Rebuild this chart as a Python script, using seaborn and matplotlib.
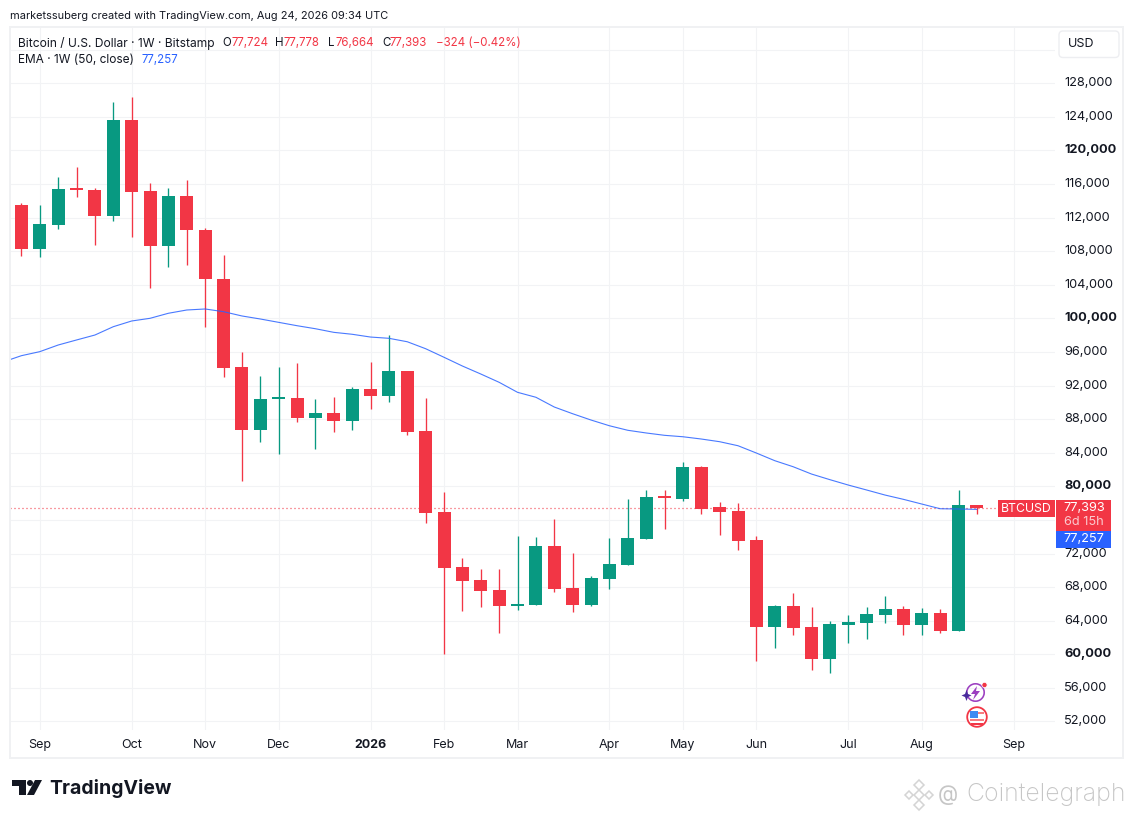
import matplotlib
matplotlib.use("Agg")
import matplotlib.pyplot as plt
import matplotlib.transforms as mtransforms
import pandas as pd
import seaborn as sns
from matplotlib.patches import Circle, FancyBboxPatch, Polygon, Rectangle, Wedge

# weekly candles, first one is the week of 2025-08-25
start_date = "2025-08-25"
opens = [113490, 108250, 111110, 115480, 115280, 112180, 123610, 115160, 108610, 114560,
         110510, 104680, 94200, 86700, 90360, 90510, 88130, 88730, 87780, 91580,
         90750, 93730, 86580, 76940, 70390, 68840, 67650, 65750, 65870, 72890,
         67890, 65870, 68960, 70630, 73730, 78810, 78490, 82300, 77540, 77060,
         73610, 63250, 65750, 63250, 59440, 63490, 63730, 64680, 65390, 63490,
         64920, 62770, 77724]
highs = [113730, 113490, 116820, 118010, 115510, 125750, 126350, 116110, 115510, 116470,
         110750, 107540, 95990, 93130, 94200, 94680, 90390, 90630, 91820, 94800,
         98010, 93730, 90510, 79320, 71460, 70150, 70150, 74080, 73960, 76110,
         72060, 69320, 73850, 78490, 79560, 79560, 82890, 82420, 78130, 78010,
         74080, 65870, 67300, 65630, 63960, 64680, 65630, 66940, 65750, 65510,
         65390, 79560, 77778]
lows = [107420, 107300, 110630, 114440, 108730, 111580, 109680, 103610, 106110, 106350,
        99000, 93010, 80630, 85270, 83850, 87660, 84440, 86470, 86700, 89200,
        90040, 86110, 75630, 60040, 65150, 65630, 62540, 65270, 65870, 67420,
        65040, 65750, 67770, 70630, 73730, 74920, 78250, 76700, 74200, 72420,
        59200, 60750, 62300, 58130, 57770, 61350, 61820, 63730, 62300, 62300,
        62540, 62770, 76664]
closes = [108250, 111230, 115390, 115240, 112180, 123610, 115040, 108610, 114560, 110510,
          104680, 94080, 86700, 90390, 90600, 88130, 88730, 87780, 91580, 90750,
          93730, 86470, 76820, 70270, 68730, 67530, 65750, 65990, 72890, 67770,
          65870, 69080, 70750, 73850, 78730, 78570, 82300, 77300, 76940, 73490,
          63250, 65750, 63130, 59440, 63610, 63850, 64800, 65390, 63490, 64920,
          62770, 77770, 77393]

# EMA 50, starts one week before the first candle
ema_start = "2025-08-18"
ema_values = [94800, 95550, 96030, 96820, 97420, 98010, 99000, 99680, 100000, 100600,
              100990, 101110, 100790, 100280, 99920, 99520, 99120, 98760, 98330, 98100,
              97770, 97620, 97210, 96380, 95360, 94320, 93370, 92380, 91190, 90600,
              89440, 88640, 87890, 87210, 86670, 86350, 86070, 85900, 85630, 85310,
              84830, 83960, 83050, 82330, 81460, 80790, 80150, 79560, 78960, 78450,
              77890, 77330, 77300, 77257]

# 76,000 sits behind the price tag and 132,000 behind the USD button, only their gridlines show
price_ticks = list(range(52000, 136000, 4000))
hidden_prices = [76000, 132000]
bold_prices = [60000, 80000, 100000, 120000]
time_ticks = ["2025-09-01", "2025-10-06", "2025-11-03", "2025-12-01", "2026-01-05", "2026-02-02",
              "2026-03-02", "2026-04-06", "2026-05-04", "2026-06-01", "2026-07-06", "2026-08-03",
              "2026-09-07"]
time_labels = ["Sep", "Oct", "Nov", "Dec", "2026", "Feb", "Mar", "Apr", "May", "Jun", "Jul", "Aug", "Sep"]

UP = "#089981"
DOWN = "#F23645"
BLUE = "#2962FF"
INK = "#131722"
GRID = "#F2F3F5"

sns.set_theme(style="white")
plt.rcParams["font.family"] = ["Inter", "DejaVu Sans"]

W, H = 1133, 818
fig = plt.figure(figsize=(W / 100, H / 100), dpi=100, facecolor="white")
ax = fig.add_axes([10 / W, 1 - 730 / H, 1045 / W, 703 / H])

df = pd.DataFrame({"open": opens, "high": highs, "low": lows, "close": closes})
df["date"] = pd.date_range(start_date, periods=len(df), freq="7D")
df["up"] = df["close"] >= df["open"]
df["color"] = df["up"].map({True: UP, False: DOWN})

ema = pd.DataFrame({"date": pd.date_range(ema_start, periods=len(ema_values), freq="7D"), "ema": ema_values})

ax.set_xlim(pd.Timestamp(start_date) - pd.Timedelta(days=4.34), pd.Timestamp(start_date) + pd.Timedelta(days=393.75))
ax.set_ylim(50988, 134681)

# gridlines under everything
ax.set_axisbelow(True)
ax.set_yticks(price_ticks)
ax.set_xticks(pd.to_datetime(time_ticks))
ax.set_xticklabels(time_labels)
ax.set_yticklabels(["" if p in hidden_prices else f"{p:,}" for p in price_ticks])
ax.grid(True, color=GRID, linewidth=0.8)
ax.yaxis.tick_right()
ax.tick_params(axis="y", length=0, pad=6.5, labelsize=9.2, labelcolor=INK)
ax.tick_params(axis="x", length=0, pad=6.5, labelsize=9, labelcolor=INK)
for spine in ax.spines.values():
    spine.set_visible(False)
# price labels sit a little above their gridline
up_shift = mtransforms.ScaledTranslation(0, 1.5 / 72 * 0.72, fig.dpi_scale_trans)
for lab, p in zip(ax.get_yticklabels(), price_ticks):
    lab.set_transform(lab.get_transform() + up_shift)
    if p in bold_prices:
        lab.set_fontweight("bold")
for lab, t in zip(ax.get_xticklabels(), time_labels):
    if t == "2026":
        lab.set_fontweight("bold")

# candles
ax.vlines(df["date"], df["low"], df["high"], colors=df["color"], linewidth=0.95, zorder=3)
ax.bar(df["date"], (df["close"] - df["open"]).abs(), bottom=df[["open", "close"]].min(axis=1),
       width=4.95, color=df["color"], linewidth=0, zorder=4)

# EMA and last price line
sns.lineplot(data=ema, x="date", y="ema", ax=ax, color=BLUE, linewidth=0.8, alpha=0.85, zorder=5, legend=False)
ax.axhline(closes[-1], color=DOWN, linewidth=0.9, linestyle=(0, (0.8, 2.4)), zorder=2)
ax.set_xlabel("")
ax.set_ylabel("")

# overlay in pixel coordinates for frame, header, tags and logos
ov = fig.add_axes([0, 0, 1, 1], facecolor="none")
ov.set_xlim(0, W)
ov.set_ylim(H, 0)
ov.axis("off")

ov.add_patch(Rectangle((10, 26.5), 1113, 731, fill=False, edgecolor="#F0F1F3", linewidth=1.4))

ov.text(10, 16, "marketssuberg created with TradingView.com, Aug 24, 2026 09:34 UTC", fontsize=7.9, color=INK, va="center")

legend_parts = [
    (222, "O", INK), (231, "77,724", DOWN),
    (275, "H", INK), (284, "77,778", DOWN), (328, "L", INK), (335, "76,664", DOWN),
    (382, "C", INK), (390, "77,393", DOWN), (436, "−324 (−0.42%)", DOWN),
]
ov.text(18, 43, "Bitcoin / U.S. Dollar · 1W · Bitstamp", fontsize=8.65, color=INK, va="center")
for x, txt, col in legend_parts:
    ov.text(x, 43, txt, fontsize=8.3, color=col, va="center")
ov.text(18, 60, "EMA · 1W (50, close)", fontsize=8.55, color=INK, va="center")
ov.text(142, 60, "77,257", fontsize=8.3, color=BLUE, va="center")

# USD button
ov.add_patch(FancyBboxPatch((1061, 33), 56, 22.5, boxstyle="round,pad=2,rounding_size=4",
                            facecolor="white", edgecolor="#EDEEF1", linewidth=1))
ov.text(1068, 44, "USD", fontsize=9, color=INK, va="center")

# price tags
ov.add_patch(Rectangle((998, 500), 57, 17, facecolor=DOWN, edgecolor="none"))
ov.text(1026.5, 508.5, "BTCUSD", fontsize=8.8, color="white", ha="center", va="center")
ov.add_patch(Rectangle((1056, 500), 55, 31, facecolor=DOWN, edgecolor="none"))
ov.text(1084, 508, "77,393", fontsize=9.2, color="white", ha="center", va="center")
ov.text(1084, 522, "6d 15h", fontsize=9.2, color="#FBC9CE", ha="center", va="center")
ov.add_patch(Rectangle((1056, 531), 55, 17, facecolor=BLUE, edgecolor="none"))
ov.text(1084, 539.5, "77,257", fontsize=9.2, color="white", ha="center", va="center")

# event icons
ov.add_patch(Wedge((975.5, 692.5), 9.5, 0, 360, width=1.6, facecolor="#9C3FC0", edgecolor="none"))
ov.add_patch(Polygon([(977, 686), (971, 694), (975, 694), (973, 700), (980, 691), (976, 691)], facecolor="#9C3FC0", edgecolor="none"))
ov.add_patch(Polygon([(966.5, 690), (968, 694), (971.5, 695.5), (968, 697), (966.5, 701), (965, 697), (961.5, 695.5), (965, 694)], facecolor="#4A2A9C", edgecolor="none"))
ov.add_patch(Circle((984.5, 685), 2.6, facecolor=DOWN, edgecolor="white", linewidth=0.5))
ov.add_patch(Circle((977, 717), 9.8, facecolor="white", edgecolor=DOWN, linewidth=1.3))
ov.add_patch(Rectangle((970, 718.5), 14, 2.6, facecolor="#F77C80", edgecolor="none"))
ov.add_patch(Rectangle((971, 722.5), 12, 2.4, facecolor=DOWN, edgecolor="none"))
ov.add_patch(Rectangle((970, 712), 14, 2.2, facecolor="#F77C80", edgecolor="none"))
ov.add_patch(Rectangle((970, 710.5), 7.5, 7.5, facecolor="#3D8BF2", edgecolor="none"))

# TradingView logo
ov.add_patch(Polygon([(12, 780), (26, 780), (26, 795), (19, 795), (19, 786), (12, 786)], facecolor=INK, edgecolor="none"))
ov.add_patch(Circle((30, 783), 3, facecolor=INK, edgecolor="none"))
ov.add_patch(Polygon([(35, 780), (42, 780), (34, 795), (27, 795)], facecolor=INK, edgecolor="none"))
ov.text(49, 788, "TradingView", fontsize=14, fontweight="bold", color=INK, va="center")

# Cointelegraph watermark
for cx, cy, r in [(919, 785, 5), (909, 795, 4), (929, 795, 4), (919, 795, 5), (919, 805, 5)]:
    ov.add_patch(Polygon([(cx, cy - r), (cx + r, cy), (cx, cy + r), (cx - r, cy)], fill=False, edgecolor="#D4D4D4", linewidth=1.1))
ov.text(938, 795, "@", fontsize=15, color="#C6C6C6", va="center")
ov.text(966, 795, "Cointelegraph", fontsize=17.9, color="#C6C6C6", va="center", fontweight="light")

fig.savefig("out.png", dpi=100)
